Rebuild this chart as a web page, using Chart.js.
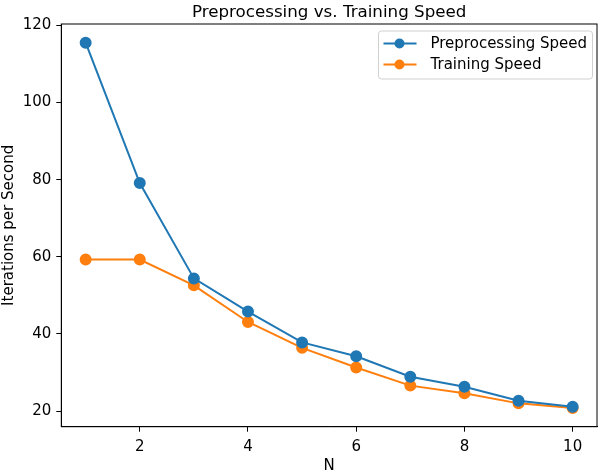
<!DOCTYPE html>
<html>
<head>
<meta charset="utf-8">
<script src="https://cdn.jsdelivr.net/npm/chart.js@4"></script>
<style>
    html, body { margin: 0; padding: 0; background: #fff; }
    #wrap { width: 604px; height: 470px; }
</style>
</head>
<body>
<div id="wrap"><canvas id="myChart" width="604" height="470"></canvas></div>
<script>
// values
const nValues = [1, 2, 3, 4, 5, 6, 7, 8, 9, 10];
const preprocessingSpeed = [115.5, 79.1, 54.4, 45.8, 37.8, 34.2, 28.9, 26.3, 22.7, 21.1];
const trainingSpeed = [59.3, 59.3, 52.6, 43.1, 36.4, 31.3, 26.6, 24.6, 22.0, 20.8];
const xTicks = [2, 4, 6, 8, 10];
const yTicks = [20, 40, 60, 80, 100, 120];

const font = 'DejaVu Sans';

function toPoints(xs, ys) {
    return xs.map((x, i) => ({ x: x, y: ys[i] }));
}

// matplotlib-ish frame, title and legend inside the axes
const framePlugin = {
    id: 'mpl_frame',
    afterDraw: (chart) => {
        const { ctx, chartArea } = chart;
        ctx.save();
        ctx.strokeStyle = '#000';
        ctx.lineWidth = 1;
        ctx.strokeRect(chartArea.left, chartArea.top, chartArea.right - chartArea.left, chartArea.bottom - chartArea.top);

        // title
        ctx.fillStyle = '#000';
        ctx.font = '16.7px "' + font + '"';
        ctx.textAlign = 'center';
        ctx.textBaseline = 'alphabetic';
        ctx.fillText('Preprocessing vs. Training Speed', (chartArea.left + chartArea.right) / 2, chartArea.top - 7);

        // legend
        const w = 214, h = 48;
        const x0 = chartArea.right - 4.5 - w;
        const y0 = chartArea.top + 7;
        ctx.beginPath();
        ctx.roundRect(x0, y0, w, h, 3);
        ctx.fillStyle = 'rgba(255,255,255,0.8)';
        ctx.fill();
        ctx.strokeStyle = '#d0d0d0';
        ctx.lineWidth = 1;
        ctx.stroke();

        chart.data.datasets.forEach((ds, i) => {
            const cy = y0 + 12.5 + i * 21;
            ctx.strokeStyle = ds.borderColor;
            ctx.lineWidth = 2;
            ctx.beginPath();
            ctx.moveTo(x0 + 5, cy);
            ctx.lineTo(x0 + 38, cy);
            ctx.stroke();
            ctx.fillStyle = ds.backgroundColor;
            ctx.beginPath();
            ctx.arc(x0 + 21, cy, 5, 0, Math.PI * 2);
            ctx.fill();
            ctx.fillStyle = '#000';
            ctx.font = '15px "' + font + '"';
            ctx.textAlign = 'left';
            ctx.textBaseline = 'middle';
            ctx.fillText(ds.label, x0 + 52, cy + 1);
        });
        ctx.restore();
    }
};

const ctx = document.getElementById('myChart').getContext('2d');
const myChart = new Chart(ctx, {
    type: 'line',
    data: {
        datasets: [
            {
                label: 'Preprocessing Speed',
                data: toPoints(nValues, preprocessingSpeed),
                borderColor: '#1f77b4',
                backgroundColor: '#1f77b4',
                borderWidth: 2,
                pointRadius: 5,
                pointHoverRadius: 5,
                tension: 0
            },
            {
                label: 'Training Speed',
                data: toPoints(nValues, trainingSpeed),
                borderColor: '#ff7f0e',
                backgroundColor: '#ff7f0e',
                borderWidth: 2,
                pointRadius: 5,
                pointHoverRadius: 5,
                tension: 0
            }
        ]
    },
    options: {
        responsive: false,
        animation: false,
        layout: { padding: { top: 24, right: 4, left: 0, bottom: 0 } },
        plugins: {
            legend: { display: false },
            title: { display: false },
            tooltip: { enabled: false }
        },
        scales: {
            x: {
                type: 'linear',
                min: 0.55,
                max: 10.45,
                afterBuildTicks: (scale) => {
                    scale.ticks = xTicks.map(v => ({ value: v }));
                },
                afterFit: (scale) => { scale.height = 43.3; },
                grid: { drawOnChartArea: false, drawTicks: true, tickLength: 5, tickColor: '#000' },
                border: { display: true, color: '#000' },
                ticks: { color: '#000', font: { family: font, size: 15 }, padding: 6, maxRotation: 0 },
                title: { display: true, text: 'N', color: '#000', font: { family: font, size: 15 }, padding: { top: 0, bottom: -5 } }
            },
            y: {
                min: 15.95,
                max: 120.35,
                afterBuildTicks: (scale) => {
                    scale.ticks = yTicks.map(v => ({ value: v }));
                },
                afterFit: (scale) => { scale.width = 61.3; },
                grid: { drawOnChartArea: false, drawTicks: true, tickLength: 5, tickColor: '#000' },
                border: { display: true, color: '#000' },
                ticks: { color: '#000', font: { family: font, size: 15 }, padding: 5 },
                title: { display: true, text: 'Iterations per Second', color: '#000', font: { family: font, size: 15 }, padding: { top: 0, bottom: 0 } }
            }
        }
    },
    plugins: [framePlugin]
});
</script>
</body>
</html>
